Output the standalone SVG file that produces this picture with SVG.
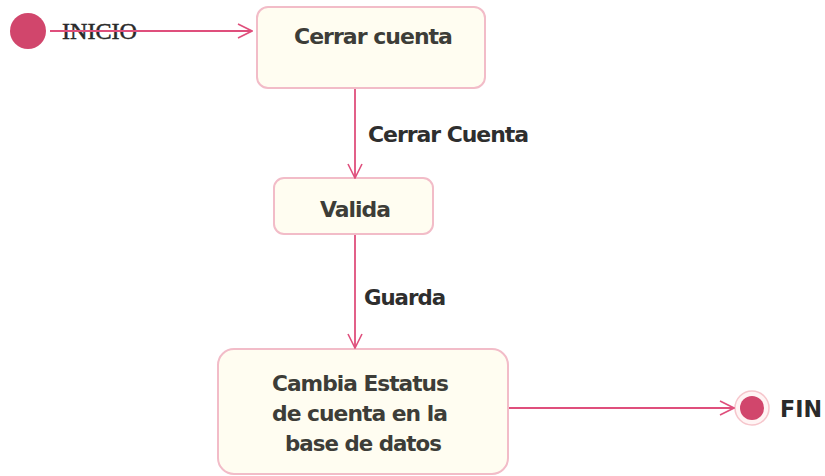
<svg xmlns="http://www.w3.org/2000/svg" width="825" height="476" viewBox="0 0 825 476">
<defs>
<marker id="arr" viewBox="0 0 16 16" refX="15" refY="8" markerWidth="16" markerHeight="16" markerUnits="userSpaceOnUse" orient="auto">
<path d="M1,1 L15,8 L1,15" fill="none" stroke="#df4f7c" stroke-width="1.6"/>
</marker>
</defs>
<style>
.box{fill:#fffdf1;stroke:#f2bcc8;stroke-width:2}
.t{font-family:"DejaVu Sans",Verdana,sans-serif;font-weight:bold;fill:#3d3d38;font-size:22px;letter-spacing:-1px}
.lbl{font-family:"DejaVu Sans",Verdana,sans-serif;font-weight:bold;fill:#2e2e2e;font-size:21px;letter-spacing:-1px}
.edge{fill:none;stroke:#df4f7c;stroke-width:1.8}
</style>
<rect width="825" height="476" fill="#ffffff"/>
<g id="inicio">
<circle cx="28" cy="31" r="18" fill="#d1466c"/>
<text x="62" y="39" font-family="Liberation Serif,serif" font-size="23" fill="#2a2a2a" stroke="#2a2a2a" stroke-width="0.5" textLength="75" lengthAdjust="spacingAndGlyphs">INICIO</text>
</g>
<g id="cerrar">
<rect class="box" x="257" y="7" width="228" height="81" rx="11"/>
<text class="t" x="294" y="44" textLength="158" lengthAdjust="spacingAndGlyphs">Cerrar cuenta</text>
</g>
<g id="valida">
<rect class="box" x="274" y="178" width="159" height="56" rx="10"/>
<text class="t" x="320" y="217" textLength="70" lengthAdjust="spacingAndGlyphs">Valida</text>
</g>
<g id="cambia">
<rect class="box" x="218" y="349" width="290" height="125" rx="16"/>
<text class="t" x="272" y="391" textLength="176" lengthAdjust="spacingAndGlyphs">Cambia Estatus</text>
<text class="t" x="272" y="421" textLength="175" lengthAdjust="spacingAndGlyphs">de cuenta en la</text>
<text class="t" x="285" y="451" textLength="156" lengthAdjust="spacingAndGlyphs">base de datos</text>
</g>
<g id="fin">
<circle cx="752" cy="408" r="17" fill="#fff4f4" stroke="#f6c6cc" stroke-width="1.5"/>
<circle cx="752" cy="408" r="12" fill="#d1466c"/>
<text x="780" y="417" font-family="DejaVu Sans,sans-serif" font-weight="bold" font-size="23" fill="#2a2a2a" textLength="42" lengthAdjust="spacingAndGlyphs">FIN</text>
</g>
<g id="connectors">
<line class="edge" x1="50" y1="31" x2="252" y2="31" marker-end="url(#arr)"/>
<line class="edge" x1="355" y1="89" x2="355" y2="178" marker-end="url(#arr)"/>
<line class="edge" x1="355" y1="235" x2="355" y2="348" marker-end="url(#arr)"/>
<line class="edge" x1="509" y1="408" x2="734" y2="408" marker-end="url(#arr)"/>
<text class="lbl" x="368" y="142" textLength="160" lengthAdjust="spacingAndGlyphs">Cerrar Cuenta</text>
<text class="lbl" x="364" y="305" textLength="81" lengthAdjust="spacingAndGlyphs">Guarda</text>
</g>
</svg>
